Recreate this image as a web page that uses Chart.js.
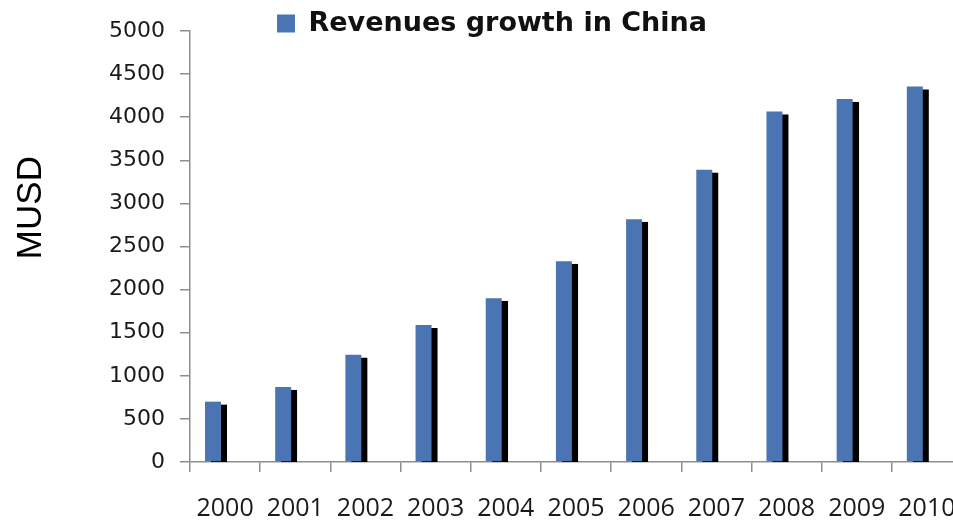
<!DOCTYPE html>
<html>
<head>
<meta charset="utf-8">
<script src="https://cdn.jsdelivr.net/npm/chart.js@4/dist/chart.umd.min.js"></script>
<style>
  html, body { margin: 0; padding: 0; background: #ffffff; overflow: hidden; }
  #wrap { position: absolute; left: 0; top: 0; width: 984px; height: 523px; }
</style>
</head>
<body>
<div id="wrap"><canvas id="c"></canvas></div>
<script>
// ---- data ----
const years = ['2000', '2001', '2002', '2003', '2004', '2005', '2006', '2007', '2008', '2009', '2010'];
const revenues = [700, 870, 1245, 1590, 1900, 2330, 2815, 3390, 4065, 4210, 4355];
const spacer = [null, null, null, null, null, null, null, null, null, null, null];
const seriesName = 'Revenues growth in China';
const yTicks = [0, 500, 1000, 1500, 2000, 2500, 3000, 3500, 4000, 4500, 5000];
const yTitle = 'MUSD';

const axisGray = '#8e8e8e';

const shadowPlugin = {
  id: 'barShadow',
  afterLayout(chart) {
    // let the legend text's descenders overlap the plot top, as in the original
    if (chart.legend) {
      chart.legend.bottom = chart.legend.top + 48;
    }
  },
  beforeDatasetDraw(chart, args) {
    if (args.index !== 0) return;
    const ctx = chart.ctx;
    ctx.save();
    ctx.shadowColor = 'rgba(0,0,0,1)';
    ctx.shadowOffsetX = 6;
    ctx.shadowOffsetY = 3;
    ctx.shadowBlur = 0.6;
  },
  afterDatasetDraw(chart, args) {
    if (args.index !== 0) return;
    chart.ctx.restore();
  }
};

new Chart(document.getElementById('c'), {
  type: 'bar',
  data: {
    labels: years,
    datasets: [
      {
        label: seriesName,
        data: revenues,
        backgroundColor: '#4a75b2',
        borderWidth: 0,
        inflateAmount: 0,
        categoryPercentage: 0.689,
        barPercentage: 0.661,
        clip: 0
      },
      {
        label: '',
        data: spacer,
        backgroundColor: 'rgba(0,0,0,0)',
        categoryPercentage: 0.689,
        barPercentage: 0.661
      }
    ]
  },
  options: {
    responsive: true,
    maintainAspectRatio: false,
    animation: false,
    devicePixelRatio: 1,
    layout: { padding: 0 },
    plugins: {
      tooltip: { enabled: false },
      legend: {
        display: true,
        position: 'top',
        maxHeight: 31,
        labels: {
          filter: (item) => item.datasetIndex === 0,
          boxWidth: 18,
          boxHeight: 18,
          padding: 10,
          color: '#111111',
          font: { family: 'DejaVu Sans', size: 27, weight: 'bold' }
        }
      }
    },
    scales: {
      x: {
        offset: true,
        afterFit(scale) { scale.height = 61; },
        grid: {
          display: true,
          drawOnChartArea: false,
          drawTicks: true,
          tickLength: 10,
          color: axisGray,
          lineWidth: 1.5,
          offset: true
        },
        border: { display: true, color: axisGray, width: 1.5 },
        ticks: {
          color: '#1a1a1a',
          padding: 22,
          maxRotation: 0,
          autoSkip: false,
          font: { family: 'Open Sans', size: 25 }
        }
      },
      y: {
        min: 0,
        max: 5000,
        afterFit(scale) { scale.width = 190; },
        afterBuildTicks(scale) { scale.ticks = yTicks.map(v => ({ value: v })); },
        grid: {
          display: true,
          drawOnChartArea: false,
          drawTicks: true,
          tickLength: 10,
          color: axisGray,
          lineWidth: 1.5
        },
        border: { display: true, color: axisGray, width: 1.5 },
        ticks: {
          color: '#1a1a1a',
          padding: 15,
          callback: (v) => String(v),
          font: { family: 'DejaVu Sans', size: 22 }
        },
        title: {
          display: true,
          text: '        ' + yTitle,
          color: '#000000',
          padding: { top: 10, bottom: 0 },
          font: { family: 'Liberation Sans', size: 35 }
        }
      },
      yRight: {
        type: 'linear',
        position: 'right',
        display: true,
        min: 0,
        max: 1,
        afterFit(scale) { scale.width = 22; },
        grid: { display: false },
        border: { display: false },
        ticks: { display: false }
      }
    }
  },
  plugins: [shadowPlugin]
});
</script>
</body>
</html>
